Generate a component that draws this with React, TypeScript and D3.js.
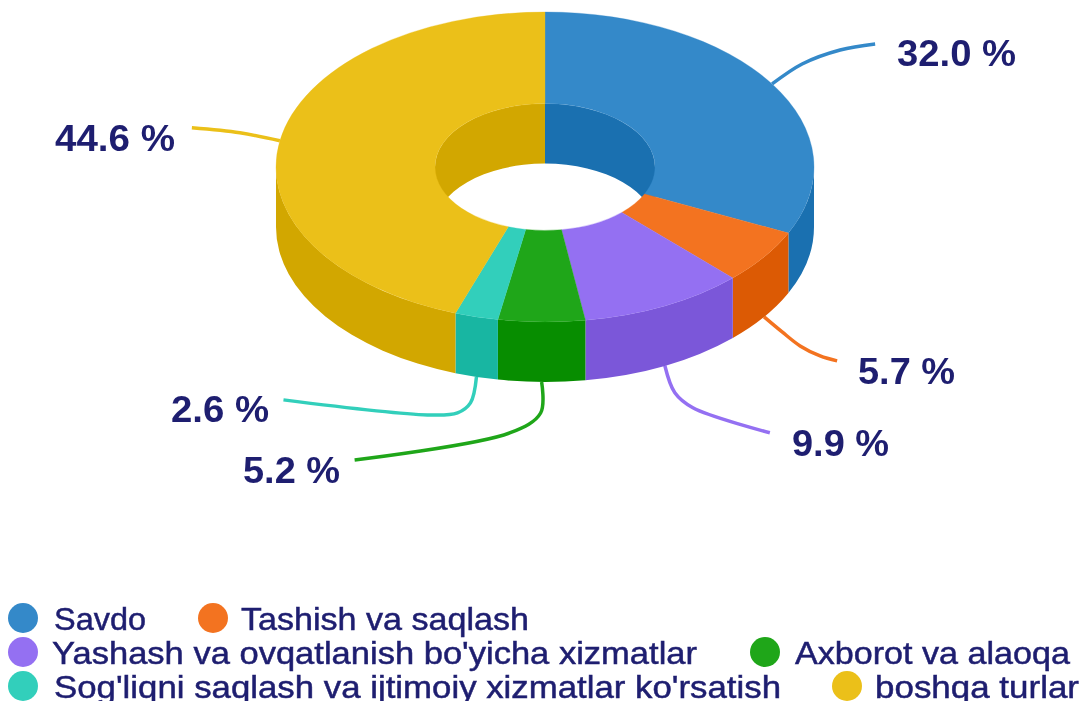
import React from 'react';
import * as d3 from 'd3';

// chart data
const categories = [
  'Savdo',
  'Tashish va saqlash',
  "Yashash va ovqatlanish bo'yicha xizmatlar",
  'Axborot va alaoqa',
  "Sog'liqni saqlash va ijtimoiy xizmatlar ko'rsatish",
  'boshqa turlar',
];
const shares = [32.0, 5.7, 9.9, 5.2, 2.6, 44.6];
const topColors = ['#3489C9', '#F37320', '#9470F2', '#1FA619', '#32CFBB', '#EBC019'];
const wallColors = ['#1A70B0', '#DC5A04', '#7B57D9', '#078D00', '#18B6A2', '#D2A700'];

// layout
const width = 1082;
const height = 701;
const cx = 545;
const cy = 167;
const rOuter = 269;
const rInner = 110;
const squash = 155 / 269;
const depth = 60;
const textColor = '#1E1E70';

// leader line knots as offsets from the slice anchor, then label position
const leaderOffsets: [number, number][][] = [
  [[30, -20], [68, -34], [103, -40]],
  [[18, 15], [36, 29], [56, 39], [73, 44]],
  [[10, 27], [28, 42], [105, 67]],
  [[-1, 31], [-32, 51], [-187, 78]],
  [[-6, 26], [-19, 36], [-49, 38], [-193, 23]],
  [[-40, -8], [-88, -13]],
];
const labelPos: [number, number][] = [[897, 66], [858, 384], [792, 456], [243, 483], [171, 422], [55, 151]];
const labelWidths = [119, 97, 97, 97, 98, 120];

const legendRows = [618, 652, 686];
const legendItems = [
  { row: 0, dot: 23, x: 54, w: 92 },
  { row: 0, dot: 213, x: 241, w: 288 },
  { row: 1, dot: 23, x: 52, w: 645 },
  { row: 1, dot: 765, x: 795, w: 275 },
  { row: 2, dot: 23, x: 54, w: 727 },
  { row: 2, dot: 847, x: 875, w: 204 },
];

const pie = d3.pie<number>().sort(null).startAngle(0).endAngle(2 * Math.PI);
const slices = pie(shares);
const topArc = d3.arc<d3.PieArcDatum<number>>().innerRadius(rInner).outerRadius(rOuter);
const leaderLine = d3.line().curve(d3.curveCatmullRom.alpha(0.5));

// wall between angle a0 and a1 (d3 arc angles), in unsquashed coordinates
function wallPath(r: number, a0: number, a1: number) {
  const d = depth / squash;
  const p = d3.path();
  p.arc(0, 0, r, a0 - Math.PI / 2, a1 - Math.PI / 2);
  p.arc(0, d, r, a1 - Math.PI / 2, a0 - Math.PI / 2, true);
  p.closePath();
  return p.toString();
}

function clipAngles(a0: number, a1: number, lo: number, hi: number) {
  const s = Math.max(a0, lo);
  const e = Math.min(a1, hi);
  return s < e ? [s, e] : null;
}

export default function App() {
  return (
    <svg width={width} height={height} style={{ position: 'fixed', left: 0, top: 0, display: 'block' }}>
      {slices.map((s, i) => {
        const mid = (s.startAngle + s.endAngle) / 2;
        const ax = cx + rOuter * Math.sin(mid);
        const onFront = Math.cos(mid) < 0;
        const ay = cy - rOuter * squash * Math.cos(mid) + (onFront ? depth : 0);
        const pts: [number, number][] = [[ax, ay], ...leaderOffsets[i].map(([dx, dy]) => [ax + dx, ay + dy] as [number, number])];
        return <path key={i} d={leaderLine(pts) || ''} fill="none" stroke={topColors[i]} strokeWidth={3.5} />;
      })}

      <g transform={`translate(${cx},${cy}) scale(1,${squash})`}>
        {/* outer wall, front half only */}
        {slices.map((s, i) => {
          const c = clipAngles(s.startAngle, s.endAngle, Math.PI / 2, 1.5 * Math.PI);
          return c && <path key={i} d={wallPath(rOuter, c[0], c[1])} fill={wallColors[i]} />;
        })}
        {/* inner wall, back half only */}
        {slices.map((s, i) => {
          const parts = [
            clipAngles(s.startAngle, s.endAngle, 0, Math.PI / 2),
            clipAngles(s.startAngle, s.endAngle, 1.5 * Math.PI, 2 * Math.PI),
          ];
          return parts.map((c, j) => c && <path key={`${i}-${j}`} d={wallPath(rInner, c[0], c[1])} fill={wallColors[i]} />);
        })}
        {/* top face */}
        {slices.map((s, i) => (
          <path key={i} d={topArc(s) || ''} fill={topColors[i]} stroke={topColors[i]} strokeWidth={0.4} />
        ))}
      </g>

      <g fontFamily='"Liberation Sans", Arial, sans-serif' fill={textColor}>
        {shares.map((v, i) => (
          <text
            key={i}
            x={labelPos[i][0]}
            y={labelPos[i][1]}
            fontSize={37}
            fontWeight="bold"
            textLength={labelWidths[i]}
            lengthAdjust="spacingAndGlyphs"
          >
            {`${d3.format('.1f')(v)} %`}
          </text>
        ))}
        {categories.map((name, i) => {
          const it = legendItems[i];
          const y = legendRows[it.row];
          return (
            <g key={name}>
              <circle cx={it.dot} cy={y} r={15} fill={topColors[i]} />
              <text
                x={it.x}
                y={y + 12}
                fontSize={32}
                stroke={textColor}
                strokeWidth={0.5}
                textLength={it.w}
                lengthAdjust="spacingAndGlyphs"
              >
                {name}
              </text>
            </g>
          );
        })}
      </g>
    </svg>
  );
}
